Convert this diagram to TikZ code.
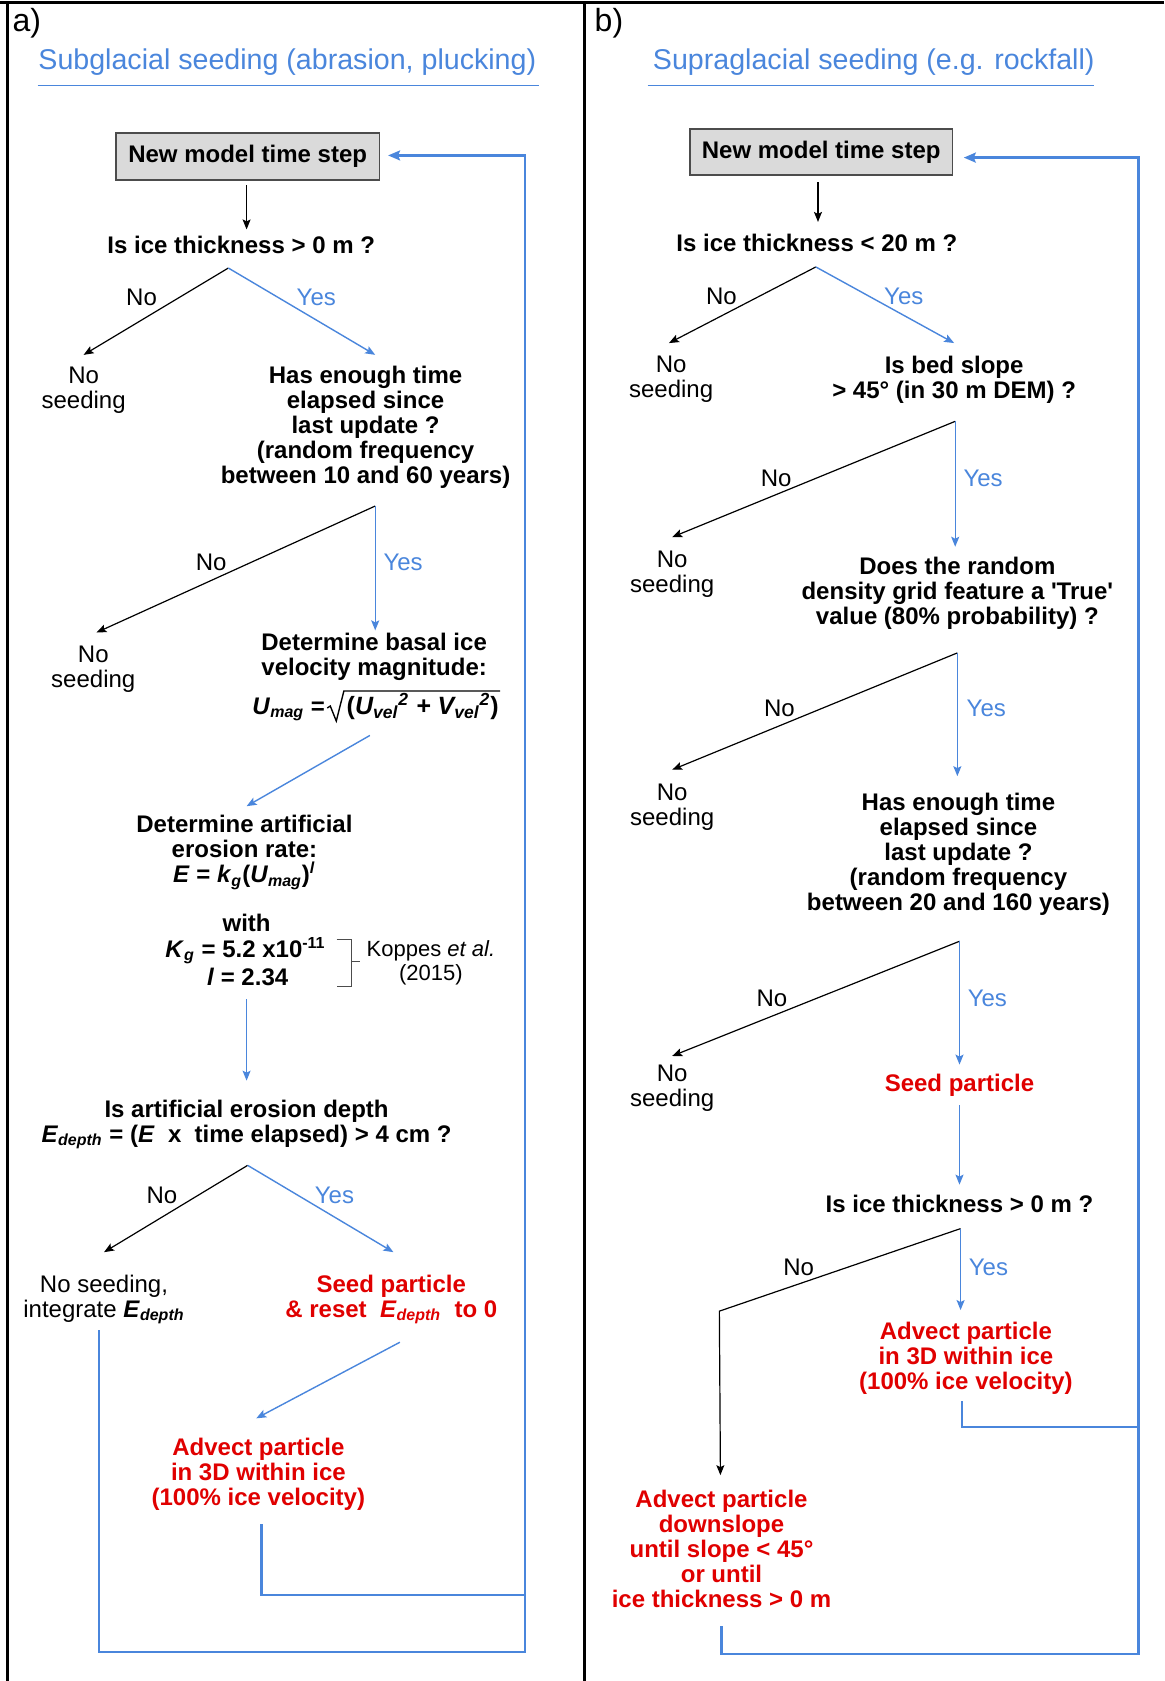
\documentclass[tikz,border=0pt]{standalone}
\usepackage{fontspec}
\setmainfont{Liberation Sans}
\usetikzlibrary{arrows.meta}
\definecolor{myblue}{RGB}{74,134,220}
\definecolor{myred}{RGB}{224,0,0}
\definecolor{boxgray}{RGB}{218,218,218}
\begin{document}
\begin{tikzpicture}[x=0.5359pt,y=-0.5359pt,
  base/.style={inner sep=0pt, align=center},
  reg/.style={base, font=\fontsize{12}{12.5}\selectfont},
  bold/.style={base, font=\fontsize{12}{12.5}\selectfont\bfseries},
  redtxt/.style={bold, text=myred},
  yeslbl/.style={reg, text=myblue},
  nolbl/.style={reg},
  small/.style={base, font=\fontsize{11}{12}\selectfont},
  paneltitle/.style={base, font=\fontsize{14.3}{16}\selectfont, text=myblue},
  panellbl/.style={base, font=\fontsize{16}{18}\selectfont},
  stepbox/.style={bold, draw=black!70, fill=boxgray, line width=0.8pt, minimum width=131.8pt, minimum height=23.6pt},
  frame/.style={draw=black, line width=1.6pt},
  tip/.style={-{Stealth[length=5pt,width=4pt,inset=1pt]}},
  noarr/.style={draw=black, line width=0.6pt, tip},
  yesarr/.style={draw=myblue, line width=0.7pt, tip},
  loopline/.style={draw=myblue, line width=1.1pt},
  loopend/.style={loopline, -{Stealth[length=6pt,width=5pt,inset=1pt]}},
  ul/.style={draw=myblue, line width=0.7pt},
  brk/.style={draw=black!70, line width=0.6pt},
  radical/.style={draw=black, line width=0.7pt, line join=miter}
]
\useasboundingbox (0,0) rectangle (1086,1568);
% frame
\draw[frame] (0,2) -- (1086,2);
\draw[frame] (7,2) -- (7,1568);
\draw[frame] (545,2) -- (545,1568);

%%%%%%%%%%%%%%%% Panel a
\node[panellbl] (alab) at (25,22) {a)};
\node[paneltitle] (atitle) at (268,58) {Subglacial seeding (abrasion, plucking)};
\coordinate (aul1) at (35,80); \coordinate (aul2) at (503,80);
\draw[ul] (aul1) -- (aul2);

\node[stepbox] (abox) at (231,146) {New model time step};
\node[bold] (aq1) at (225,228) {Is ice thickness > 0 m ?};
\coordinate (aa1) at (230,173); \coordinate (aa2) at (230,214);
\draw[noarr] (aa1) -- (aa2);

\coordinate (aj1) at (213,250); \coordinate (an1) at (78,331); \coordinate (ay1) at (350,331);
\draw[noarr] (aj1) -- (an1);
\draw[yesarr] (aj1) -- (ay1);
\node[nolbl] (ano1) at (132,277) {No};
\node[yeslbl] (ayes1) at (295,277) {Yes};
\node[reg] (ans1) at (78,364) {No\\seeding};

\node[bold] (aq2) at (341,399) {Has enough time\\elapsed since\\last update ?\\(random frequency\\between 10 and 60 years)};
\coordinate (aj2) at (350,472); \coordinate (an2) at (90,590); \coordinate (ay2) at (350,588);
\draw[noarr] (aj2) -- (an2);
\draw[yesarr] (aj2) -- (ay2);
\node[nolbl] (ano2) at (197,525) {No};
\node[yeslbl] (ayes2) at (376,525) {Yes};
\node[reg] (ans2) at (87,624) {No\\seeding};

\node[bold] (aq3) at (349,613) {Determine basal ice\\velocity magnitude:};
% formula with a drawn radical
\node[bold, anchor=base west, font=\fontsize{12.5}{13}\selectfont\bfseries\itshape] (aq3r) at (323,666) {\textup{(}U\textsubscript{vel}\textsuperscript{2} + V\textsubscript{vel}\textsuperscript{2}\textup{)}};
\node[bold, anchor=base east] (aq3u) at ([xshift=-10.5pt]aq3r.base west) {\textit{U}\textsubscript{\textit{mag}} =};
\draw[radical] ([xshift=-9.5pt,yshift=3pt]aq3r.base west) -- ([xshift=-8pt,yshift=4pt]aq3r.base west)
  -- ([xshift=-5pt,yshift=-3.5pt]aq3r.base west) -- ([xshift=-1.2pt,yshift=11.5pt]aq3r.base west)
  -- ([xshift=0.5pt,yshift=11.5pt]aq3r.base east);
\coordinate (ad1) at (345,686); \coordinate (ad2) at (230,752);
\draw[yesarr] (ad1) -- (ad2);

\node[bold] (aq4) at (228,795) {Determine artificial\\erosion rate:\\\textit{E} = \textit{k}\textsubscript{\textit{g}}(\textit{U}\textsubscript{\textit{mag}})\textsuperscript{\textit{l}}};
\node[bold] (awith) at (230,861) {with};
\node[bold] (akg) at (229,887) {\textit{K}\textsubscript{\textit{g}} = 5.2 x10\textsuperscript{-11}};
\node[bold] (al) at (231,911) {\textit{l} = 2.34};
\coordinate (ab1) at (314,876); \coordinate (ab2) at (328,876);
\coordinate (ab3) at (328,920); \coordinate (ab4) at (314,920);
\coordinate (ab5) at (328,897); \coordinate (ab6) at (336,897);
\draw[brk] (ab1) -- (ab2) -- (ab3) -- (ab4);
\draw[brk] (ab5) -- (ab6);
\node[small] (akop) at (402,898) {Koppes \textit{et al.}\\(2015)};

\coordinate (aw1) at (230,932); \coordinate (aw2) at (230,1008);
\draw[yesarr] (aw1) -- (aw2);

\node[bold] (aq5) at (230,1049) {Is artificial erosion depth\\\textit{E}\textsubscript{\textit{depth}} = (\textit{E}~ x~ time elapsed) > 4 cm ?};
\coordinate (aj4) at (231,1087); \coordinate (an4) at (97,1168); \coordinate (ay4) at (367,1168);
\draw[noarr] (aj4) -- (an4);
\draw[yesarr] (aj4) -- (ay4);
\node[nolbl] (ano4) at (151,1115) {No};
\node[yeslbl] (ayes4) at (312,1115) {Yes};
\node[reg] (ans4) at (97,1212) {No seeding,\\integrate \textbf{\textit{E}\textsubscript{\textit{depth}}}};
\node[redtxt] (aseed) at (365,1212) {Seed particle\\\& reset~ \textit{E}\textsubscript{\textit{depth}}~ to 0};
\coordinate (as1) at (373,1252); \coordinate (as2) at (239,1323);
\draw[yesarr] (as1) -- (as2);
\node[redtxt] (aadv) at (241,1375) {Advect particle\\in 3D within ice\\(100\% ice velocity)};

% loops a
\coordinate (al1) at (244,1422); \coordinate (al2) at (244,1488); \coordinate (al3) at (490,1488);
\draw[loopline] (al1) -- (al2) -- (al3);
\coordinate (ao1) at (92,1241); \coordinate (ao2) at (92,1541); \coordinate (ao3) at (490,1541);
\coordinate (ao4) at (490,145); \coordinate (ao5) at (362,145);
\draw[loopend] (ao1) -- (ao2) -- (ao3) -- (ao4) -- (ao5);

%%%%%%%%%%%%%%%% Panel b
\node[panellbl] (blab) at (568,22) {b)};
\node[paneltitle] (btitle) at (815,58) {Supraglacial seeding (e.g. rockfall)};
\coordinate (bul1) at (604,80); \coordinate (bul2) at (1020,80);
\draw[ul] (bul1) -- (bul2);

\node[stepbox, minimum width=131.3pt, minimum height=23pt] (bbox) at (766,142) {New model time step};
\node[bold] (bq1) at (762,227) {Is ice thickness < 20 m ?};
\coordinate (ba1) at (763,170); \coordinate (ba2) at (763,207);
\draw[noarr] (ba1) -- (ba2);

\coordinate (bj1) at (761,249); \coordinate (bn1) at (624,320); \coordinate (by1) at (890,320);
\draw[noarr] (bj1) -- (bn1);
\draw[yesarr] (bj1) -- (by1);
\node[nolbl] (bno1) at (673,276) {No};
\node[yeslbl] (byes1) at (843,276) {Yes};
\node[reg] (bns1) at (626,354) {No\\seeding};
\node[bold] (bq2) at (890,354) {Is bed slope\\> 45° (in 30 m DEM) ?};

\coordinate (bj2) at (891,393); \coordinate (bn2) at (627,501); \coordinate (by2) at (891,510);
\draw[noarr] (bj2) -- (bn2);
\draw[yesarr] (bj2) -- (by2);
\node[nolbl] (bno2) at (724,446) {No};
\node[yeslbl] (byes2) at (917,446) {Yes};
\node[reg] (bns2) at (627,536) {No\\seeding};
\node[bold] (bq3) at (893,553) {Does the random\\density grid feature a \textquotesingle True\textquotesingle\\value (80\% probability) ?};

\coordinate (bj3) at (893,609); \coordinate (bn3) at (627,718); \coordinate (by3) at (893,724);
\draw[noarr] (bj3) -- (bn3);
\draw[yesarr] (bj3) -- (by3);
\node[nolbl] (bno3) at (727,661) {No};
\node[yeslbl] (byes3) at (920,661) {Yes};
\node[reg] (bns3) at (627,753) {No\\seeding};
\node[bold] (bq4) at (894,797) {Has enough time\\elapsed since\\last update ?\\(random frequency\\between 20 and 160 years)};

\coordinate (bj4) at (895,878); \coordinate (bn4) at (627,985); \coordinate (by4) at (895,993);
\draw[noarr] (bj4) -- (bn4);
\draw[yesarr] (bj4) -- (by4);
\node[nolbl] (bno4) at (720,931) {No};
\node[yeslbl] (byes4) at (921,931) {Yes};
\node[reg] (bns4) at (627,1015) {No\\seeding};
\node[redtxt] (bseed) at (895,1012) {Seed particle};

\coordinate (bs1) at (895,1031); \coordinate (bs2) at (895,1105);
\draw[yesarr] (bs1) -- (bs2);
\node[bold] (bq5) at (895,1123) {Is ice thickness > 0 m ?};

\coordinate (bj5) at (896,1146); \coordinate (bk5) at (671,1223); \coordinate (bn5) at (672,1376);
\coordinate (by5) at (896,1222);
\draw[noarr] (bj5) -- (bk5) -- (bn5);
\draw[yesarr] (bj5) -- (by5);
\node[nolbl] (bno5) at (745,1182) {No};
\node[yeslbl] (byes5) at (922,1182) {Yes};
\node[redtxt] (badv) at (901,1267) {Advect particle\\in 3D within ice\\(100\% ice velocity)};
\node[redtxt] (bdown) at (673,1445) {Advect particle\\downslope\\until slope < 45°\\or until\\ice thickness > 0 m};

% loops b
\coordinate (bl1) at (897,1307); \coordinate (bl2) at (897,1331); \coordinate (bl3) at (1061,1331);
\draw[loopline] (bl1) -- (bl2) -- (bl3);
\coordinate (bo1) at (673,1517); \coordinate (bo2) at (673,1543); \coordinate (bo3) at (1062,1543);
\coordinate (bo4) at (1062,147); \coordinate (bo5) at (899,147);
\draw[loopend] (bo1) -- (bo2) -- (bo3) -- (bo4) -- (bo5);
\end{tikzpicture}
\end{document}
